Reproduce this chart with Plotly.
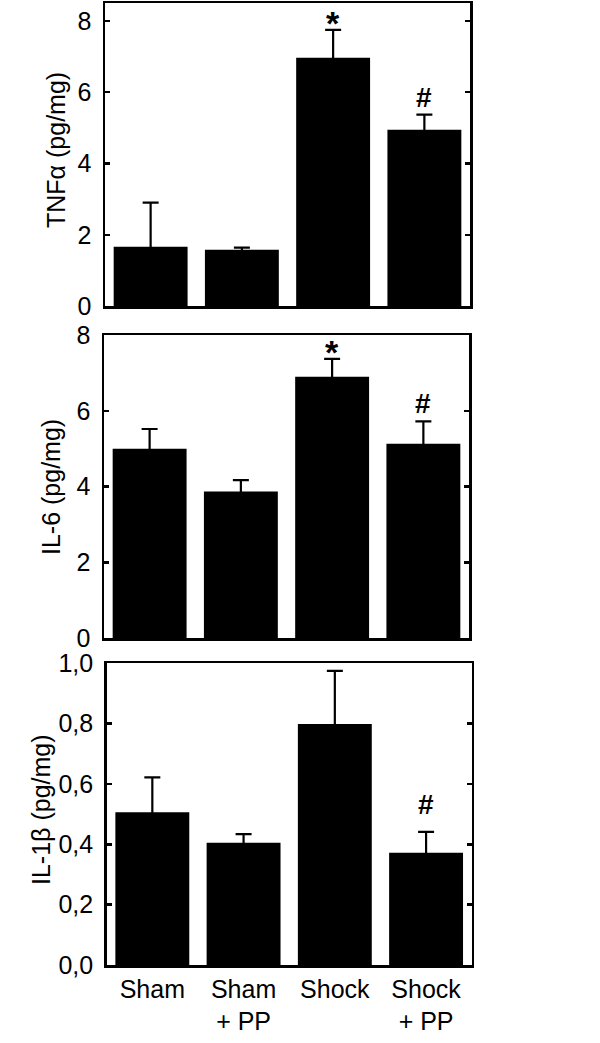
import plotly.graph_objects as go

categories = ["Sham", "Sham<br>+ PP", "Shock", "Shock<br>+ PP"]

tnf_values = [1.66, 1.58, 6.97, 4.95]
tnf_errors = [1.24, 0.06, 0.78, 0.42]

il6_values = [5.00, 3.87, 6.90, 5.13]
il6_errors = [0.52, 0.30, 0.47, 0.59]

il1b_values = [0.506, 0.405, 0.799, 0.372]
il1b_errors = [0.116, 0.029, 0.176, 0.069]

tnf_ticks = [0, 2, 4, 6, 8]
il6_ticks = [0, 2, 4, 6, 8]
il1b_ticks = [0.0, 0.2, 0.4, 0.6, 0.8, 1.0]
il1b_ticklabels = ["0,0", "0,2", "0,4", "0,6", "0,8", "1,0"]

titles = ["TNFα (pg/mg)", "IL-6 (pg/mg)", "IL-1β (pg/mg)"]

# significance marks: (panel, category, symbol)
marks = [
    (0, "Shock", "*"), (0, "Shock<br>+ PP", "#"),
    (1, "Shock", "*"), (1, "Shock<br>+ PP", "#"),
    (2, "Shock<br>+ PP", "#"),
]

FONT = "Liberation Sans, Arial, sans-serif"
W, H = 600, 1043

panels = [
    dict(vals=tnf_values, errs=tnf_errors, ticks=tnf_ticks,
         labels=[str(t) for t in tnf_ticks], xpx=(105, 470), ypx=(3, 306), top=8.505,
         title_xy=(56, 150)),
    dict(vals=il6_values, errs=il6_errors, ticks=il6_ticks,
         labels=[str(t) for t in il6_ticks], xpx=(104, 469), ypx=(335, 638.3), top=8.0,
         title_xy=(51, 487)),
    dict(vals=il1b_values, errs=il1b_errors, ticks=il1b_ticks,
         labels=il1b_ticklabels, xpx=(106.7, 471.7), ypx=(663.3, 965), top=1.0,
         title_xy=(41, 810)),
]

fig = go.Figure()
layout = dict(
    width=W, height=H, margin=dict(l=0, r=0, t=0, b=0),
    paper_bgcolor="white", plot_bgcolor="white", showlegend=False,
    bargap=0.19, font=dict(family=FONT, size=25, color="black"),
)

annotations = []
for i, p in enumerate(panels):
    sfx = "" if i == 0 else str(i + 1)
    fig.add_trace(go.Bar(
        x=categories, y=p["vals"],
        marker=dict(color="black", line=dict(width=0)),
        error_y=dict(type="data", array=p["errs"], symmetric=True,
                     color="black", thickness=2.2, width=8),
        xaxis="x" + sfx, yaxis="y" + sfx,
    ))
    x0, x1 = p["xpx"]
    ytop, ybot = p["ypx"]
    layout["xaxis" + sfx] = dict(
        domain=[x0 / W, x1 / W], anchor="y" + sfx, type="category",
        categoryorder="array", categoryarray=categories,
        showline=True, linecolor="black", linewidth=2.5, mirror=True,
        ticks="", showgrid=False, zeroline=False, automargin=False,
        showticklabels=(i == 2), tickfont=dict(size=25, family=FONT),
        fixedrange=True,
    )
    layout["yaxis" + sfx] = dict(
        domain=[1 - ybot / H, 1 - ytop / H], anchor="x" + sfx,
        range=[0, p["top"]], tickvals=p["ticks"], ticktext=p["labels"],
        showline=True, linecolor="black", linewidth=2.5, mirror="ticks",
        ticks="inside", ticklen=5, tickwidth=2.5, tickcolor="black",
        showgrid=False, zeroline=False, automargin=False,
        tickfont=dict(size=25, family=FONT), ticklabelstandoff=6,
        fixedrange=True,
    )
    tx, ty = p["title_xy"]
    annotations.append(dict(
        x=tx / W, y=1 - ty / H, xref="paper", yref="paper", text=titles[i],
        textangle=-90, showarrow=False, xanchor="center", yanchor="middle",
        font=dict(size=25, family=FONT, color="black"),
    ))

for panel, cat, sym in marks:
    p = panels[panel]
    idx = categories.index(cat)
    sfx = "" if panel == 0 else str(panel + 1)
    annotations.append(dict(
        x=cat, y=p["vals"][idx] + p["errs"][idx], xref="x" + sfx, yref="y" + sfx,
        text="<b>" + sym + "</b>", showarrow=False, yanchor="bottom",
        font=dict(size=34 if sym == "*" else 28, family=FONT, color="black"),
        yshift=(-14 if sym == "*" else (10 if panel == 2 else 0)),
    ))
layout["annotations"] = annotations

fig.update_layout(**layout)
fig.write_html(
    "out.html",
    config={"displayModeBar": False, "staticPlot": True},
    post_script="document.body.style.margin='0';document.body.style.overflow='hidden';",
)
